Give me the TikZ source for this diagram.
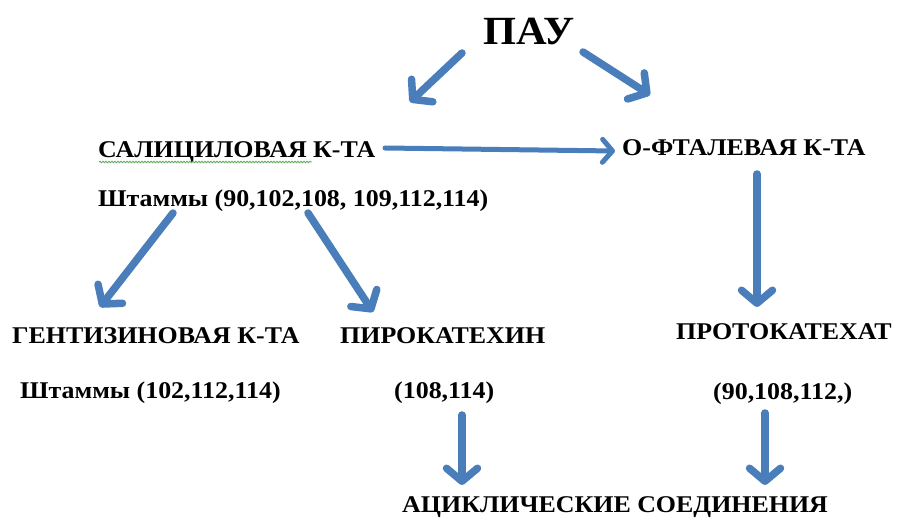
\documentclass[tikz,border=0pt]{standalone}
\usepackage{graphicx}
\usepackage{fontspec}
\setmainfont{Liberation Serif}
\usetikzlibrary{arrows.meta,decorations.pathmorphing}
\definecolor{arrowblue}{RGB}{74,126,187}
\definecolor{spellgreen}{RGB}{90,170,90}
\newcommand{\wide}[1]{\scalebox{1.08}[1]{#1}}
\begin{document}
\begin{tikzpicture}[x=1pt,y=-1pt,
  lbl/.style={font=\bfseries\fontsize{24}{28}\selectfont, inner sep=0pt, anchor=base west},
  title/.style={font=\bfseries\fontsize{40}{44}\selectfont, inner sep=0pt, anchor=base west},
  bigarrow/.style={draw=arrowblue, line width=7.5pt, line cap=round,
    -{Straight Barb[length=13pt,width=31pt,round]}},
  thinarrow/.style={draw=arrowblue, line width=5pt, line cap=round,
    -{Straight Barb[length=10pt,width=23pt,round]}},
  squiggle/.style={draw=spellgreen, line width=0.8pt,
    decorate, decoration={snake, amplitude=0.8pt, segment length=3pt}}
  ]
\useasboundingbox (0,0) rectangle (897,518);
% texts
\node[title] (pau) at (483,45) {\scalebox{1.06}[1]{ПАУ}};
\node[lbl] (sal) at (98,158) {\wide{САЛИЦИЛОВАЯ К-ТА}};
\node[lbl] (sh1) at (98,207) {\wide{Штаммы (90,102,108, 109,112,114)}};
\node[lbl] (oft) at (622,156) {\wide{О-ФТАЛЕВАЯ К-ТА}};
\node[lbl] (gen) at (12,344) {\wide{ГЕНТИЗИНОВАЯ К-ТА}};
\node[lbl] (pir) at (340,344) {\wide{ПИРОКАТЕХИН}};
\node[lbl] (prot) at (676,340) {\wide{ПРОТОКАТЕХАТ}};
\node[lbl] (sh2) at (20,399) {\wide{Штаммы (102,112,114)}};
\node[lbl] (sh3) at (394,399) {\wide{(108,114)}};
\node[lbl] (sh4) at (713,400) {\wide{(90,108,112,)}};
\node[lbl] (acy) at (402,512) {\wide{АЦИКЛИЧЕСКИЕ СОЕДИНЕНИЯ}};
% spell-check underline
\coordinate (u1) at (99,162);
\coordinate (u2) at (312,162);
\draw[squiggle] (u1) -- (u2);
% arrow endpoints
\coordinate (a1s) at (462,53);  \coordinate (a1e) at (410,102);
\coordinate (a2s) at (583,52);  \coordinate (a2e) at (650,95);
\coordinate (a3s) at (385,148); \coordinate (a3e) at (615,151);
\coordinate (a4s) at (757,174); \coordinate (a4e) at (757,307);
\coordinate (a5s) at (173,213); \coordinate (a5e) at (100,307);
\coordinate (a6s) at (308,213); \coordinate (a6e) at (373,312);
\coordinate (a7s) at (462,415); \coordinate (a7e) at (462,485);
\coordinate (a8s) at (765,413); \coordinate (a8e) at (765,485);
\draw[bigarrow] (a1s) -- (a1e);
\draw[bigarrow] (a2s) -- (a2e);
\draw[thinarrow] (a3s) -- (a3e);
\draw[bigarrow] (a4s) -- (a4e);
\draw[bigarrow] (a5s) -- (a5e);
\draw[bigarrow] (a6s) -- (a6e);
\draw[bigarrow] (a7s) -- (a7e);
\draw[bigarrow] (a8s) -- (a8e);
\end{tikzpicture}
\end{document}
